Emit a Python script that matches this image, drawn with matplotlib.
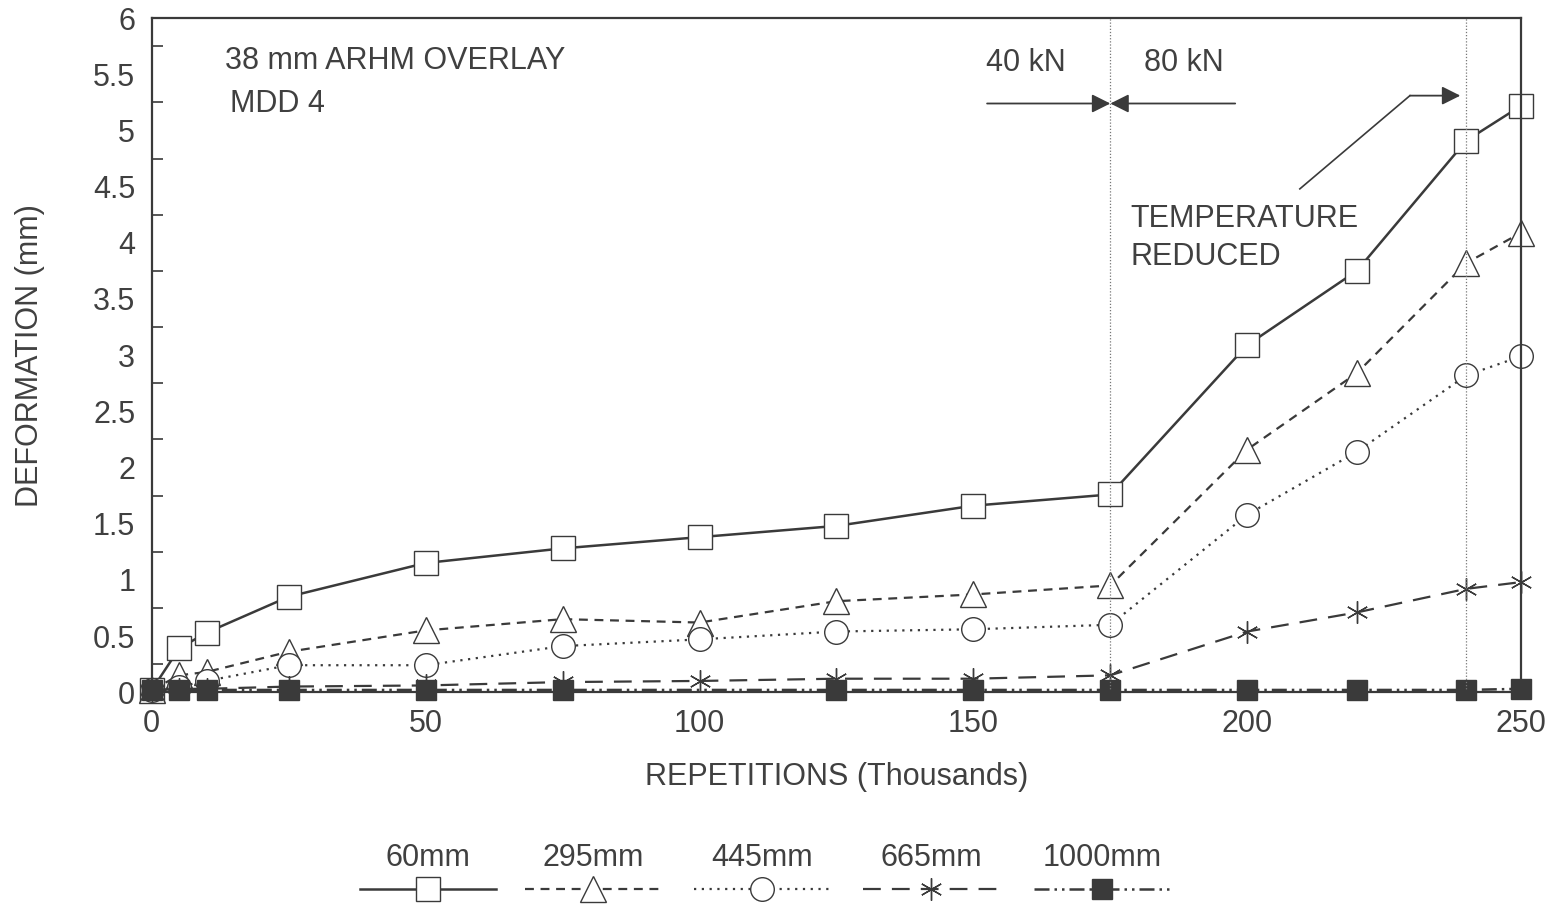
# deformation vs repetitions, MDD 4 overlay
import matplotlib
matplotlib.use('Agg')
import matplotlib.pyplot as plt
from matplotlib.lines import Line2D
import numpy as np

plt.rcParams['font.family'] = ['Liberation Sans', 'DejaVu Sans']

ink = '#3a3a3a'
txt = '#404040'
fs = 22

# data (thousands of repetitions, mm)
x_all = [0, 5, 10, 25, 50, 75, 100, 125, 150, 175, 200, 220, 240, 250]
d60 = [0.02, 0.39, 0.53, 0.85, 1.15, 1.28, 1.38, 1.48, 1.66, 1.76, 3.09, 3.75, 4.91, 5.22]
d295 = [0.02, 0.15, 0.18, 0.36, 0.55, 0.65, 0.62, 0.81, 0.87, 0.95, 2.16, 2.84, 3.82, 4.09]
d445 = [0.02, 0.05, 0.10, 0.24, 0.24, 0.41, 0.47, 0.54, 0.56, 0.60, 1.58, 2.14, 2.82, 2.99]
d665 = [0.02, 0.03, 0.03, 0.05, 0.06, 0.09, 0.10, 0.12, 0.12, 0.15, 0.54, 0.71, 0.92, 0.98]
x_1000 = [0, 5, 10, 25, 50, 75, 125, 150, 175, 200, 220, 240, 250]
d1000 = [0.02, 0.02, 0.02, 0.02, 0.02, 0.02, 0.02, 0.02, 0.02, 0.02, 0.02, 0.02, 0.03]

labels = ['60mm', '295mm', '445mm', '665mm', '1000mm']
series = [(x_all, d60), (x_all, d295), (x_all, d445), (x_all, d665), (x_1000, d1000)]
styles = [
    dict(ls='-', marker='s', ms=17, mfc='white', lw=1.8),
    dict(ls=(0, (4, 3)), marker='^', ms=19, mfc='white', lw=1.6),
    dict(ls=(0, (1, 2.5)), marker='o', ms=17, mfc='white', lw=1.6),
    dict(ls=(0, (8, 5)), marker=(6, 2, 0), ms=16, mfc='none', lw=1.6),
    dict(ls=(0, (6, 2, 1, 2, 1, 2)), marker='s', ms=15, mfc=ink, lw=1.8),
]

fig = plt.figure(figsize=(15.49, 9.06), dpi=100)
ax = fig.add_axes([0.098, 0.236, 0.884, 0.744])

for (xs, ys), st in zip(series, styles):
    ax.plot(xs, ys, color=ink, mec=ink, mew=1.0, clip_on=False, **st)

ax.set_xlim(0, 250)
ax.set_ylim(0, 6)
ax.set_xticks(np.arange(0, 251, 50))
ax.set_yticks(np.arange(0, 6.01, 0.5))
ax.set_yticklabels(['0', '0.5', '1', '1.5', '2', '2.5', '3', '3.5', '4', '4.5', '5', '5.5', '6'])
ax.set_yticks(np.arange(0.25, 6, 0.5), minor=True)
ax.tick_params(axis='both', which='major', length=0, labelsize=fs, labelcolor=txt, pad=12)
ax.tick_params(axis='y', which='minor', direction='in', length=8, width=1.2, color=ink)
for s in ax.spines.values():
    s.set_color(ink)
    s.set_linewidth(1.6)

ax.set_xlabel('REPETITIONS (Thousands)', fontsize=fs, color=txt)
ax.set_ylabel('DEFORMATION (mm)', fontsize=fs, color=txt)
ax.xaxis.set_label_coords(0.5, -0.104)
ax.yaxis.set_label_coords(-0.078, 0.5)

# load change and temperature markers
for xv in [175, 240]:
    ax.axvline(xv, color='#777777', lw=0.9, ls=(0, (1, 1.5)))

ax.text(13.3, 5.62, '38 mm ARHM OVERLAY', fontsize=fs, color=txt, va='center')
ax.text(14.2, 5.24, 'MDD 4', fontsize=fs, color=txt, va='center')
ax.text(159.5, 5.6, '40 kN', fontsize=fs, color=txt, ha='center', va='center')
ax.text(188.5, 5.6, '80 kN', fontsize=fs, color=txt, ha='center', va='center')
arr = dict(arrowstyle='-|>', color=ink, lw=1.3, mutation_scale=28, shrinkA=0, shrinkB=0)
ax.annotate('', xy=(175, 5.24), xytext=(152.5, 5.24), arrowprops=arr)
ax.annotate('', xy=(175, 5.24), xytext=(197.8, 5.24), arrowprops=arr)

ax.text(178.6, 4.21, 'TEMPERATURE', fontsize=fs, color=txt, va='center')
ax.text(178.6, 3.87, 'REDUCED', fontsize=fs, color=txt, va='center')
ax.plot([209.6, 229.7], [4.48, 5.31], color=ink, lw=1.2)
ax.annotate('', xy=(238.9, 5.31), xytext=(229.7, 5.31), arrowprops=arr)

# legend: label above each sample line
centers = [428, 593, 762, 931, 1102]
half = 68
for lab, st, cx in zip(labels, styles, centers):
    fx = cx / 1549
    fig.text(fx, 1 - 858 / 906, lab, fontsize=fs, color=txt, ha='center', va='center')
    fy = 1 - 889 / 906
    ln = Line2D([fx - half / 1549, fx, fx + half / 1549], [fy, fy, fy],
                transform=fig.transFigure, color=ink, mec=ink, mew=1.0,
                markevery=[1], **st)
    fig.add_artist(ln)

fig.savefig('out.png', dpi=100)
